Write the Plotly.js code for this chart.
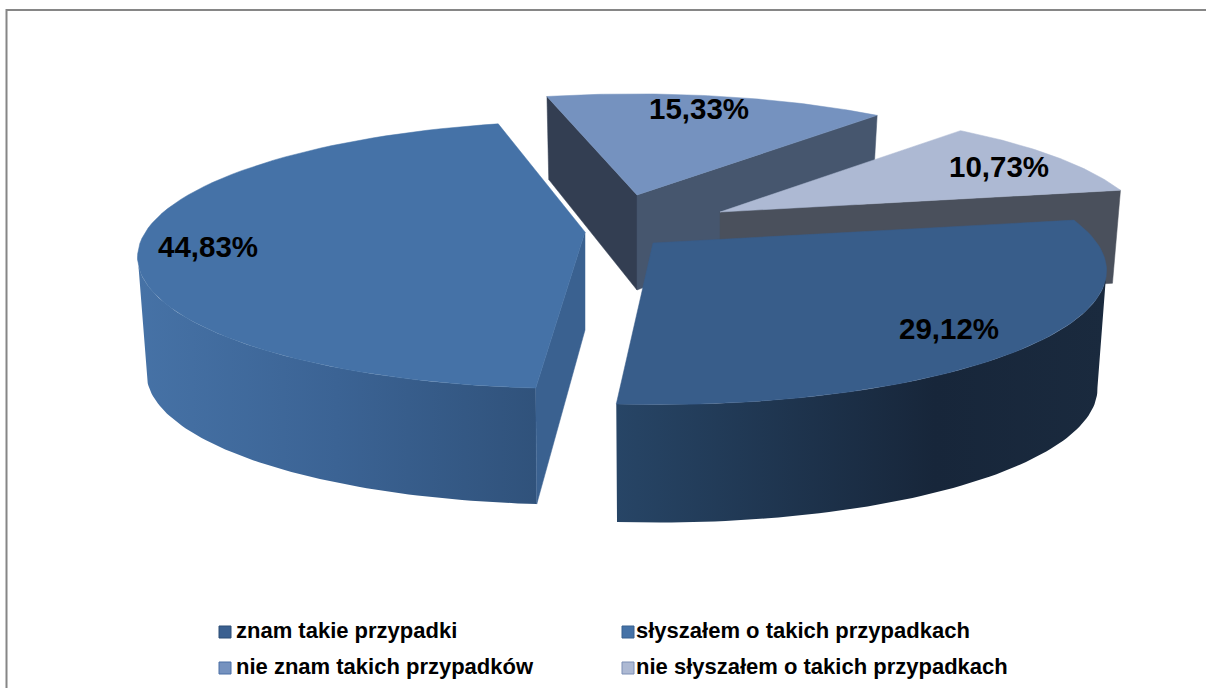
<!DOCTYPE html>
<html><head><meta charset="utf-8">
<script src="https://cdn.plot.ly/plotly-3.0.1.min.js"></script>
<style>html,body{margin:0;padding:0;background:#fff}#c{width:1206px;height:688px}</style>
</head><body><div id="c"></div>
<script>
// ---- data ----
const categories = ['znam takie przypadki','słyszałem o takich przypadkach','nie znam takich przypadków','nie słyszałem o takich przypadkach'];
const shares = [29.12, 44.83, 15.33, 10.73];
const labels = shares.map(v => v.toFixed(2).replace('.', ',') + '%');

// ---- styles and exploded-3D geometry (screen-like axis units) ----
const topColors = ['#385d8a','#4572a7','#7592bf','#adb9d3'];
const legendColors = ['#3b6090','#4572a7','#7592bf','#adb9d3'];
const legendEdge = ['#2c4d75','#38618f','#4a6fa5','#7d8fb5'];
const apexes = [[653,243],[585,232],[637,195],[720,212]];
const scaleX = [1, 0.99, 0.955, 0.95];
const scaleY = [1, 1, 0.93, 0.95];
const perspective = [0.1955, 0.17, 0.1955, 0.1955];
const shear = [0.03, -0.06, 0.02, 0];
const rimDepth = [118, 116, 83, 93];
const apexDepth = [97, 98, 95, 95];
const labelPos = [[949,332],[208,250],[699,112],[999,170]];
const legendPos = [[225,632],[628,632],[225,668],[628,668]];
const legendTextX = [236,636,236,636];
const START = 10.5, A = 444, B = 130, INSET = 0.98;

const total = shares.reduce((a,b)=>a+b,0);
const spans = shares.map(v => v/total*360);
const startAngles = spans.map((_,i)=> START - spans.slice(0,i).reduce((a,b)=>a+b,0));
const endAngle = i => startAngles[i]-spans[i];
const extreme = i => Math.asin(perspective[i])*180/Math.PI;

function rim(i,deg,bottom){
  const t = deg*Math.PI/180, u = Math.cos(t), v = Math.sin(t), d = 1+perspective[i]*v;
  let Y = -B*scaleY[i]*v/d;
  let X = A*scaleX[i]*u/d + shear[i]*Y;
  if(bottom){ X *= INSET; Y += rimDepth[i]; }
  return [apexes[i][0]+X, apexes[i][1]+Y];
}
function arc(i,a,b,bottom){
  const n = 72, out = [];
  for(let k=0;k<=n;k++) out.push(rim(i,a+(b-a)*k/n,bottom));
  return out;
}
const apexBottom = i => [apexes[i][0], apexes[i][1]+apexDepth[i]];
function poly(pts,name,color,grad){
  const tr = {type:'scatter',mode:'lines',x:pts.map(p=>p[0]),y:pts.map(p=>p[1]),fill:'toself',
    line:{width:0.5,color:color||'rgba(0,0,0,0)'},name:name,hoverinfo:'name',showlegend:false};
  if(grad){ tr.fillgradient={type:'horizontal',colorscale:grad}; } else { tr.fillcolor=color; }
  return tr;
}
const topFace = i => poly([apexes[i],...arc(i,startAngles[i],endAngle(i),false),apexes[i]],categories[i],topColors[i]);
function radialWall(i,deg,color){
  return poly([apexes[i],rim(i,deg,false),rim(i,deg,true),apexBottom(i),apexes[i]],categories[i],color);
}
function outerWall(i,a,b,grad){
  return poly([...arc(i,a,b,false),...arc(i,b,a,true)],categories[i],null,grad);
}

const traces = [];
// back slices first
traces.push(radialWall(2,startAngles[2],'#333e52'));
traces.push(radialWall(2,endAngle(2),'#46566e'));
traces.push(topFace(2));
traces.push(radialWall(3,endAngle(3),'#4a505c'));
traces.push(topFace(3));
// large front slices
traces.push(outerWall(1,startAngles[1],-180+extreme(1),[[0,'#4672a6'],[0.5,'#3b6394'],[1,'#30527b']]));
traces.push(radialWall(1,startAngles[1],'#3a6190'));
traces.push(topFace(1));
traces.push(outerWall(0,-extreme(0),endAngle(0),[[0,'#274566'],[0.65,'#17263a'],[1,'#1a2a3e']]));
traces.push(topFace(0));
// value labels
traces.push({type:'scatter',mode:'text',x:labelPos.map(p=>p[0]),y:labelPos.map(p=>p[1]),text:labels,
  textposition:'middle center',textfont:{family:'"Liberation Sans",Arial,sans-serif',size:29.5,color:'#000',weight:'bold'},
  hoverinfo:'skip',showlegend:false});
// legend drawn on the axes
traces.push({type:'scatter',mode:'markers',x:legendPos.map(p=>p[0]),y:legendPos.map(p=>p[1]),
  marker:{symbol:'square',size:12,color:legendColors,line:{width:1,color:legendEdge}},
  hoverinfo:'skip',showlegend:false});
traces.push({type:'scatter',mode:'text',x:legendTextX,y:legendPos.map(p=>p[1]),text:categories,
  textposition:'middle right',
  textfont:{family:'"Liberation Sans",Arial,sans-serif',size:22,color:'#000',weight:'bold'},
  hoverinfo:'skip',showlegend:false});

const layout = {
  width:1206,height:688,margin:{l:0,r:0,t:0,b:0},showlegend:false,
  paper_bgcolor:'#fff',plot_bgcolor:'#fff',
  xaxis:{range:[0,1206],visible:false,fixedrange:true},
  yaxis:{range:[688,0],visible:false,fixedrange:true},
  shapes:[{type:'path',path:'M 6.5 688 L 6.5 10 L 1206 10',line:{color:'#868686',width:2},layer:'below'}]
};
Plotly.newPlot('c',traces,layout,{displayModeBar:false,staticPlot:true});
</script></body></html>
